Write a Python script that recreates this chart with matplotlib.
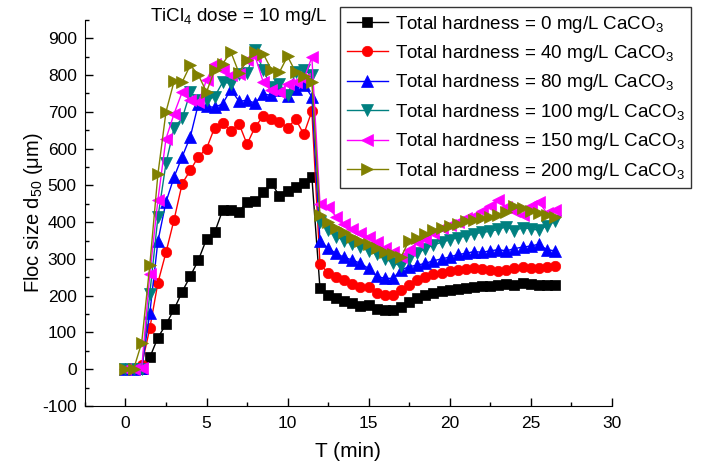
import numpy as np
import matplotlib
matplotlib.use("Agg")
import matplotlib.pyplot as plt
from matplotlib.ticker import MultipleLocator

# time (min)
time = [0.0, 0.5, 1.0, 1.5, 2.0, 2.5, 3.0, 3.5, 4.0, 4.5, 5.0, 5.5, 6.0, 6.5,
        7.0, 7.5, 8.0, 8.5, 9.0, 9.5, 10.0, 10.5, 11.0, 11.5, 12.0, 12.5,
        13.0, 13.5, 14.0, 14.5, 15.0, 15.5, 16.0, 16.5, 17.0, 17.5, 18.0,
        18.5, 19.0, 19.5, 20.0, 20.5, 21.0, 21.5, 22.0, 22.5, 23.0, 23.5,
        24.0, 24.5, 25.0, 25.5, 26.0, 26.5]

hard_0 = [0, 0, 0, 32, 86, 122, 163, 211, 253, 297, 354, 372, 433, 433, 428,
          455, 457, 481, 507, 471, 485, 496, 507, 523,
          220, 202, 193, 186, 179, 172, 174, 163, 161, 161, 170, 183, 193, 202,
          206, 212, 216, 219, 222, 224, 225, 226, 228, 231, 229, 235, 231, 228,
          229, 228]
hard_40 = [0, 0, 11, 111, 235, 318, 407, 505, 541, 578, 600, 657, 670, 647,
           668, 612, 659, 688, 680, 673, 657, 680, 639, 702,
           286, 262, 251, 242, 233, 224, 224, 208, 202, 202, 215, 229, 242, 251,
           258, 263, 266, 270, 272, 275, 273, 270, 268, 271, 275, 278, 276,
           274, 277, 280]
hard_80 = [0, 0, 2, 152, 348, 455, 523, 578, 632, 722, 715, 712, 722, 761,
           729, 731, 724, 748, 745, 759, 742, 763, 774, 741,
           349, 329, 315, 304, 297, 288, 274, 253, 247, 247, 270, 279, 283, 288,
           295, 300, 305, 312, 315, 320, 318, 322, 325, 322, 328, 332, 335,
           340, 325, 322]
hard_100 = [0, 0, 0, 205, 413, 560, 657, 682, 754, 731, 731, 741, 781, 777,
            802, 806, 869, 813, 768, 777, 745, 808, 813, 800,
            400, 378, 360, 350, 340, 332, 322, 312, 300, 290, 280, 300, 315,
            328, 338, 345, 352, 358, 362, 368, 372, 375, 380, 388, 376, 385,
            382, 378, 390, 402]
hard_150 = [0, 0, 2, 258, 460, 627, 695, 754, 733, 727, 786, 831, 815, 800,
            804, 840, 851, 781, 759, 754, 777, 781, 788, 849,
            450, 440, 415, 395, 380, 370, 360, 345, 330, 318, 305, 325, 345,
            355, 370, 385, 392, 400, 410, 418, 430, 445, 460, 440, 430, 420,
            445, 455, 425, 432]
hard_200 = [0, 0, 72, 283, 530, 700, 783, 781, 827, 800, 754, 813, 831, 863,
            806, 840, 863, 858, 815, 808, 851, 808, 797, 781,
            419, 400, 383, 372, 360, 350, 340, 330, 320, 312, 305, 350, 358,
            368, 378, 385, 390, 395, 402, 405, 410, 415, 420, 428, 445, 438,
            430, 425, 420, 415]

labels = [r'Total hardness = 0 mg/L CaCO$_3$',
          r'Total hardness = 40 mg/L CaCO$_3$',
          r'Total hardness = 80 mg/L CaCO$_3$',
          r'Total hardness = 100 mg/L CaCO$_3$',
          r'Total hardness = 150 mg/L CaCO$_3$',
          r'Total hardness = 200 mg/L CaCO$_3$']

plt.rcParams['font.family'] = ['Liberation Sans', 'DejaVu Sans']
plt.rcParams['mathtext.fontset'] = 'custom'
plt.rcParams['mathtext.rm'] = 'Liberation Sans'
plt.rcParams['mathtext.it'] = 'Liberation Sans'
plt.rcParams['axes.unicode_minus'] = False

fig = plt.figure(figsize=(7.08, 4.68), dpi=100)
ax = fig.add_axes([0.12, 0.1325, 0.744, 0.825])

series = [hard_0, hard_40, hard_80, hard_100, hard_150, hard_200]
colors = ['black', '#FF0000', '#0000FF', '#008080', '#FF00FF', '#808000']
markers = ['s', 'o', '^', 'v', '<', '>']
sizes = [6.5, 7.5, 8, 8, 8, 8]

for vals, c, m, ms, lab in zip(series, colors, markers, sizes, labels):
    ax.plot(time, vals, color=c, marker=m, markersize=ms, linewidth=1,
            markeredgewidth=0.5, label=lab)

ax.set_xlim(-2.5, 30)
ax.set_ylim(-100, 950)
ax.xaxis.set_major_locator(MultipleLocator(5))
ax.xaxis.set_minor_locator(MultipleLocator(2.5))
ax.yaxis.set_major_locator(MultipleLocator(100))
ax.yaxis.set_minor_locator(MultipleLocator(50))
ax.spines['top'].set_visible(False)
ax.spines['right'].set_visible(False)
ax.tick_params(which='major', direction='in', length=6, width=1, labelsize=12.5)
ax.tick_params(axis='y', which='major', pad=6)
ax.tick_params(axis='x', which='major', pad=7)
ax.tick_params(which='minor', direction='in', length=3, width=1)

ax.set_xlabel('T (min)', fontsize=15)
ax.set_ylabel(r'Floc size d$_{50}$ ($\mu$m)', fontsize=14.5)
ax.xaxis.set_label_coords(0.499, -0.093)
ax.yaxis.set_label_coords(-0.076, 0.5)

fig.text(0.337, 0.964, r'TiCl$_4$ dose = 10 mg/L', fontsize=13.5, ha='center', va='center')

leg = fig.legend(loc='upper right', bbox_to_anchor=(0.976, 0.985), fontsize=13.5,
                 frameon=True, fancybox=False, edgecolor='black',
                 handlelength=2.2, borderpad=0.35, labelspacing=0.45,
                 handletextpad=0.35, borderaxespad=0)
leg.get_frame().set_linewidth(1)

fig.savefig('out.png', dpi=100)
